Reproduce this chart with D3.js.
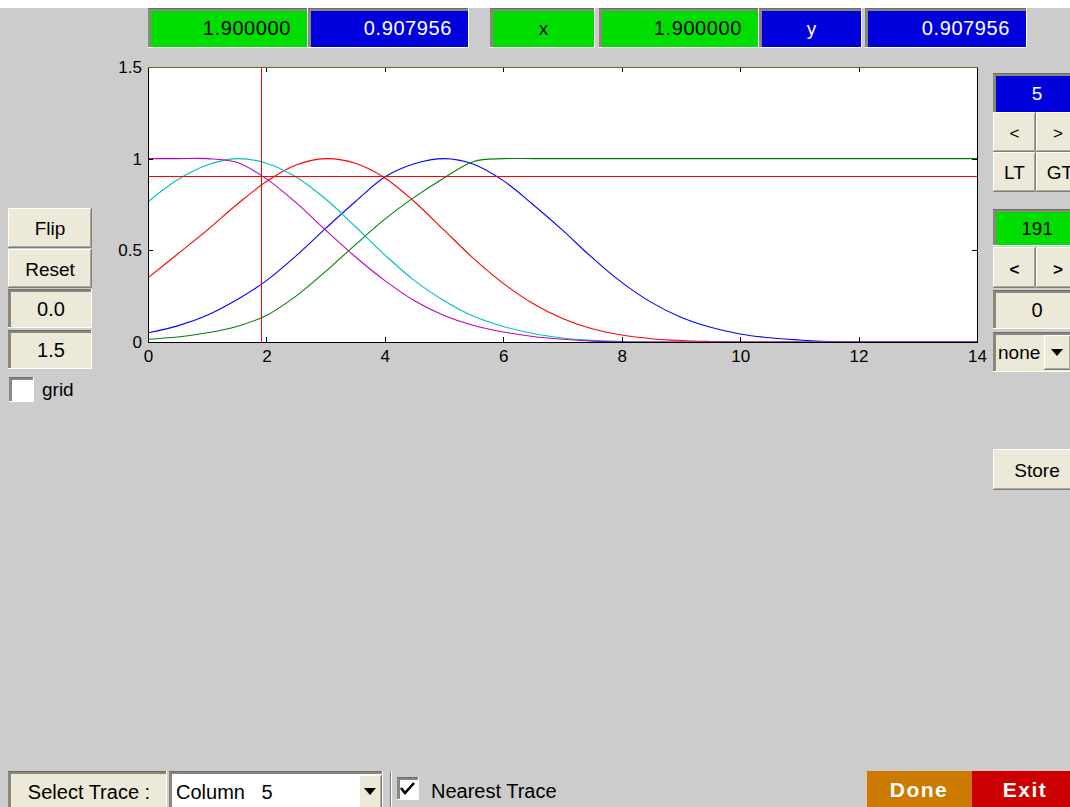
<!DOCTYPE html>
<html><head><meta charset="utf-8">
<script src="https://cdn.jsdelivr.net/npm/d3@7"></script>
<style>
html,body{margin:0;padding:0;background:#fff;}
svg{display:block;}
text{font-family:"Liberation Sans",Arial,sans-serif;white-space:pre;}
</style></head>
<body>
<script>
// ---------- data ----------
const xGrid = [0,0.5,1,1.5,2,2.5,3,3.5,4,4.5,5,5.5,6,6.5,7,7.5,8,8.5,9,9.5,10,10.5,11,11.5,12,12.5,13,13.5,14];
const col1Blue    = [0.05,0.088,0.146,0.23,0.335,0.47,0.62,0.765,0.9,0.972,1.0,0.97,0.88,0.75,0.61,0.46,0.325,0.216,0.135,0.08,0.044,0.023,0.011,0.003,0,0,0,0,0];
const col2Green   = [0.015,0.027,0.05,0.085,0.145,0.25,0.385,0.53,0.67,0.79,0.895,0.985,1,1,1,1,1,1,1,1,1,1,1,1,1,1,1,1,1];
const col3Red     = [0.35,0.48,0.61,0.75,0.875,0.965,1.0,0.975,0.895,0.765,0.61,0.455,0.32,0.21,0.128,0.072,0.038,0.018,0.008,0.003,0,0,0,0,0,0,0,0,0];
const col4Cyan    = [0.765,0.885,0.965,1.0,0.975,0.9,0.78,0.63,0.475,0.335,0.225,0.14,0.085,0.046,0.022,0.009,0.003,0,0,0,0,0,0,0,0,0,0,0,0];
const col5Magenta = [1,1,1,0.98,0.89,0.76,0.61,0.465,0.335,0.225,0.145,0.09,0.055,0.03,0.015,0.005,0,0,0,0,0,0,0,0,0,0,0,0,0];
const seriesNames = ["Column 1","Column 2","Column 3","Column 4","Column 5"];
const seriesColors = ["#0000ff","#008000","#ff0000","#00bfbf","#bf00bf"];
const xTicks = [0,2,4,6,8,10,12,14];
const yTicks = [0,0.5,1,1.5];
const cursorX = 1.9;
const cursorY = 0.907956;
const xLabel = "1.900000", yLabelTxt = "0.907956";

// ---------- svg ----------
const W = 1070, H = 807;
const svg = d3.select("body").append("svg").attr("width", W).attr("height", H);
svg.append("rect").attr("x",0).attr("y",0).attr("width",W).attr("height",H).attr("fill","#ffffff");
svg.append("rect").attr("x",0).attr("y",8).attr("width",W).attr("height",H-8).attr("fill","#cccccc");

const BEIGE = "#ece9d8";

function raised(x,y,w,h,label,opts={}){
  const g = svg.append("g");
  g.append("rect").attr("x",x).attr("y",y).attr("width",w).attr("height",h).attr("fill",opts.fill||BEIGE);
  g.append("path").attr("d",`M${x+0.5},${y+h}V${y+0.5}H${x+w}`).attr("stroke","#ffffff").attr("fill","none");
  g.append("path").attr("d",`M${x},${y+h-0.5}H${x+w-0.5}V${y}`).attr("stroke","#808080").attr("fill","none");
  g.append("path").attr("d",`M${x+1},${y+h-1.5}H${x+w-1.5}V${y+1}`).attr("stroke","#aca899").attr("fill","none");
  if(label!==undefined){
    g.append("text").attr("x",opts.tx!==undefined?opts.tx:x+w/2).attr("y",y+h/2+ (opts.dy||7))
      .attr("text-anchor",opts.anchor||"middle").attr("font-size",opts.fs||19)
      .attr("font-weight",opts.bold?"bold":"normal").attr("fill",opts.color||"#000")
      .attr("letter-spacing",opts.ls||0).text(label);
  }
  return g;
}
function sunken(x,y,w,h,fill,label,opts={}){
  const g = svg.append("g");
  g.append("rect").attr("x",x).attr("y",y).attr("width",w).attr("height",h).attr("fill",fill);
  g.append("rect").attr("x",x).attr("y",y).attr("width",w).attr("height",3).attr("fill","#8a887c");
  g.append("rect").attr("x",x).attr("y",y).attr("width",3).attr("height",h).attr("fill","#8a887c");
  g.append("rect").attr("x",x).attr("y",y).attr("width",w).attr("height",1).attr("fill","#6f6e66");
  g.append("rect").attr("x",x).attr("y",y+h-1).attr("width",w).attr("height",1).attr("fill","#ffffff");
  g.append("rect").attr("x",x+w-1).attr("y",y).attr("width",1).attr("height",h).attr("fill","#ffffff");
  if(label!==undefined){
    const anchor = opts.anchor||"middle";
    const tx = opts.tx!==undefined?opts.tx:(anchor==="end"? x+w-17 : x+w/2+1);
    g.append("text").attr("x",tx).attr("y",y+h/2+(opts.dy||7)).attr("text-anchor",anchor)
      .attr("font-size",opts.fs||20).attr("fill",opts.color||"#000").attr("letter-spacing",opts.ls||0).text(label);
  }
  return g;
}

// ---------- top readouts ----------
const GREEN = "#00dd00", BLUE = "#0000dd";
sunken(148,8,160,40,GREEN,xLabel,{anchor:"end",fs:20,ls:0.6});
sunken(308,8,161,40,BLUE,yLabelTxt,{anchor:"end",color:"#fff",fs:20,ls:0.6});
sunken(490,8,105,40,GREEN,"x",{fs:19});
sunken(599,8,160,40,GREEN,xLabel,{anchor:"end",fs:20,ls:0.6});
sunken(759,8,103,40,BLUE,"y",{color:"#fff",fs:19});
sunken(865,8,162,40,BLUE,yLabelTxt,{anchor:"end",color:"#fff",fs:20,ls:0.6});

// ---------- plot ----------
const PL = 148, PR = 977, PT = 67, PB = 342;
const x = d3.scaleLinear().domain([0,14]).range([PL,PR]);
const y = d3.scaleLinear().domain([0,1.5]).range([PB,PT]);

svg.append("rect").attr("x",PL).attr("y",PT).attr("width",PR-PL).attr("height",PB-PT).attr("fill","#ffffff");

const plotG = svg.append("g");
const clip = svg.append("clipPath").attr("id","pc");
clip.append("rect").attr("x",PL).attr("y",PT-1).attr("width",PR-PL).attr("height",PB-PT+1);

const series = [col1Blue,col2Green,col3Red,col4Cyan,col5Magenta];
const line = d3.line().x((d,i)=>x(xGrid[i])).y(d=>y(d)).curve(d3.curveCatmullRom.alpha(0.5));
series.forEach((s,k)=>{
  plotG.append("path").datum(s).attr("d",line).attr("fill","none")
    .attr("stroke",seriesColors[k]).attr("stroke-width",1.1).attr("clip-path","url(#pc)");
});
// cursor lines
plotG.append("line").attr("x1",PL).attr("x2",PR).attr("y1",Math.round(y(cursorY))+0.5).attr("y2",Math.round(y(cursorY))+0.5)
  .attr("stroke","#ff0000").attr("stroke-width",1);
plotG.append("line").attr("x1",Math.round(x(cursorX))+0.5).attr("x2",Math.round(x(cursorX))+0.5).attr("y1",PT).attr("y2",PB)
  .attr("stroke","#ff0000").attr("stroke-width",1);

// axes
const fmtY = d => d===0?"0":(d===1?"1":String(d));
const axB = svg.append("g").attr("transform",`translate(0,${PB})`)
  .call(d3.axisBottom(x).tickValues(xTicks).tickSizeInner(-5).tickSizeOuter(0).tickPadding(8).tickFormat(d3.format("d")));
const axT = svg.append("g").attr("transform",`translate(0,${PT})`)
  .call(d3.axisTop(x).tickValues(xTicks).tickSizeInner(-5).tickSizeOuter(0).tickFormat(""));
const axL = svg.append("g").attr("transform",`translate(${PL},0)`)
  .call(d3.axisLeft(y).tickValues(yTicks).tickSizeInner(-5).tickSizeOuter(0).tickPadding(6).tickFormat(fmtY));
const axR = svg.append("g").attr("transform",`translate(${PR},0)`)
  .call(d3.axisRight(y).tickValues(yTicks).tickSizeInner(-5).tickSizeOuter(0).tickFormat(""));
[axB,axT,axL,axR].forEach(a=>{
  a.select(".domain").remove();
  a.selectAll("line").attr("stroke","#000").attr("shape-rendering","crispEdges");
  a.selectAll("text").attr("font-size",17).attr("fill","#000").attr("font-family","'Liberation Sans',Arial,sans-serif");
});
// frame
svg.append("path").attr("d",`M${PL+0.5},${PT}V${PB+0.5}H${PR+0.5}V${PT}`).attr("fill","none").attr("stroke","#000").attr("shape-rendering","crispEdges");
svg.append("line").attr("x1",PL).attr("x2",PR+1).attr("y1",PT+0.5).attr("y2",PT+0.5).attr("stroke","#6b6b10").attr("shape-rendering","crispEdges");

// ---------- left controls ----------
raised(8,208,84,40,"Flip",{fs:19});
raised(8,249,84,39,"Reset",{fs:19});
sunken(8,289,84,39,BEIGE,"0.0",{fs:20});
sunken(8,330,84,39,BEIGE,"1.5",{fs:20});
sunken(9,377,25,25,"#ffffff");
svg.append("text").attr("x",42).attr("y",396).attr("font-size",19).text("grid");

// ---------- right controls ----------
sunken(993,73,90,40,BLUE,"5",{color:"#fff",fs:19,tx:1037});
raised(993,112,43,40,"<",{fs:17});
raised(1036,112,45,40,">",{fs:17,tx:1058});
raised(993,152,43,40,"LT",{fs:19});
raised(1036,152,45,40,"GT",{fs:19,tx:1060});
sunken(993,209,90,37,GREEN,"191",{fs:19,tx:1037});
raised(993,247,43,41,"<",{fs:17,bold:true});
raised(1036,247,45,41,">",{fs:17,bold:true,tx:1058});
sunken(993,290,90,39,BEIGE,"0",{fs:20,tx:1037});
sunken(993,332,90,40,BEIGE,"none",{fs:19,anchor:"start",tx:998});
raised(1044,335,27,35,undefined);
svg.append("path").attr("d","M1051,349h12l-6,7z").attr("fill","#000");
raised(993,449,90,41,"Store",{fs:19,tx:1037});

// ---------- bottom controls ----------
sunken(8,771,159,40,BEIGE,"Select Trace :",{fs:20,tx:89,dy:8});
sunken(169,771,214,40,"#ffffff","Column   5",{fs:20,anchor:"start",tx:176,dy:8});
raised(359,775,23,36,undefined);
svg.append("path").attr("d","M364,788h12l-6,7z").attr("fill","#000");
svg.append("rect").attr("x",390).attr("y",771).attr("width",1).attr("height",36).attr("fill","#808080");
svg.append("rect").attr("x",391).attr("y",771).attr("width",1).attr("height",36).attr("fill","#ffffff");
sunken(397,777,22,23,"#ffffff");
svg.append("path").attr("d","M401,788l4,5l9,-10").attr("fill","none").attr("stroke","#000").attr("stroke-width",2.6);
svg.append("text").attr("x",431).attr("y",798).attr("font-size",20).text("Nearest Trace");

svg.append("rect").attr("x",866).attr("y",771).attr("width",1).attr("height",36).attr("fill","#e8c89a");
svg.append("rect").attr("x",867).attr("y",771).attr("width",104).attr("height",36).attr("fill","#cc7a00");
svg.append("rect").attr("x",971).attr("y",771).attr("width",110).attr("height",36).attr("fill","#cc0000");
svg.append("rect").attr("x",971).attr("y",771).attr("width",1).attr("height",36).attr("fill","#e06060");
svg.append("text").attr("x",919).attr("y",797).attr("text-anchor","middle").attr("font-size",21).attr("font-weight","bold").attr("letter-spacing",1.5).attr("fill","#fff").text("Done");
svg.append("text").attr("x",1025).attr("y",797).attr("text-anchor","middle").attr("font-size",21).attr("font-weight","bold").attr("letter-spacing",1.5).attr("fill","#fff").text("Exit");
</script>
</body></html>
